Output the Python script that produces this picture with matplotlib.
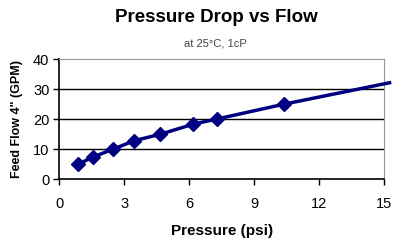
import matplotlib
matplotlib.use("Agg")
import matplotlib.pyplot as plt

pressure = [0.86, 1.58, 2.5, 3.47, 4.65, 6.19, 7.27, 10.4, 15.25]
flow = [4.9, 7.4, 10.0, 12.8, 14.9, 18.3, 20.0, 25.0, 32.1]
x_ticks = [0, 3, 6, 9, 12, 15]
y_ticks = [0, 10, 20, 30, 40]

plt.rcParams["font.family"] = ["Liberation Sans", "DejaVu Sans"]

fig = plt.figure(figsize=(3.94, 2.43), dpi=100)
ax = fig.add_axes([0.150, 0.263, 0.825, 0.494])

for yv in y_ticks[1:-1]:
    ax.axhline(yv, color="black", linewidth=1.0, zorder=1)

ax.plot(pressure, flow, color="#000080", linewidth=2.5, marker="D",
        markersize=7.5, markevery=list(range(len(pressure) - 1)),
        clip_on=False, zorder=3)

ax.set_xlim(0, 15)
ax.set_ylim(0, 40)
ax.set_xticks(x_ticks)
ax.set_yticks(y_ticks)
ax.tick_params(direction="out", length=4, width=1, labelsize=10.5)
ax.tick_params(axis="x", pad=9)
ax.tick_params(axis="y", pad=3)

ax.spines["left"].set_color("black")
ax.spines["bottom"].set_color("black")
ax.spines["left"].set_linewidth(1.2)
ax.spines["bottom"].set_linewidth(1.2)
ax.spines["top"].set_color("#999999")
ax.spines["right"].set_color("#999999")

ax.set_xlabel("Pressure (psi)", fontsize=11, fontweight="bold", labelpad=9)
ax.set_ylabel('Feed Flow 4" (GPM)', fontsize=9, fontweight="bold", labelpad=7)

fig.text(0.549, 0.926, "Pressure Drop vs Flow", ha="center", va="center",
         fontsize=13.5, fontweight="bold")
fig.text(0.546, 0.823, "at 25\u00b0C, 1cP", ha="center", va="center",
         fontsize=8, color="#444444")

fig.savefig("out.png", dpi=100)
